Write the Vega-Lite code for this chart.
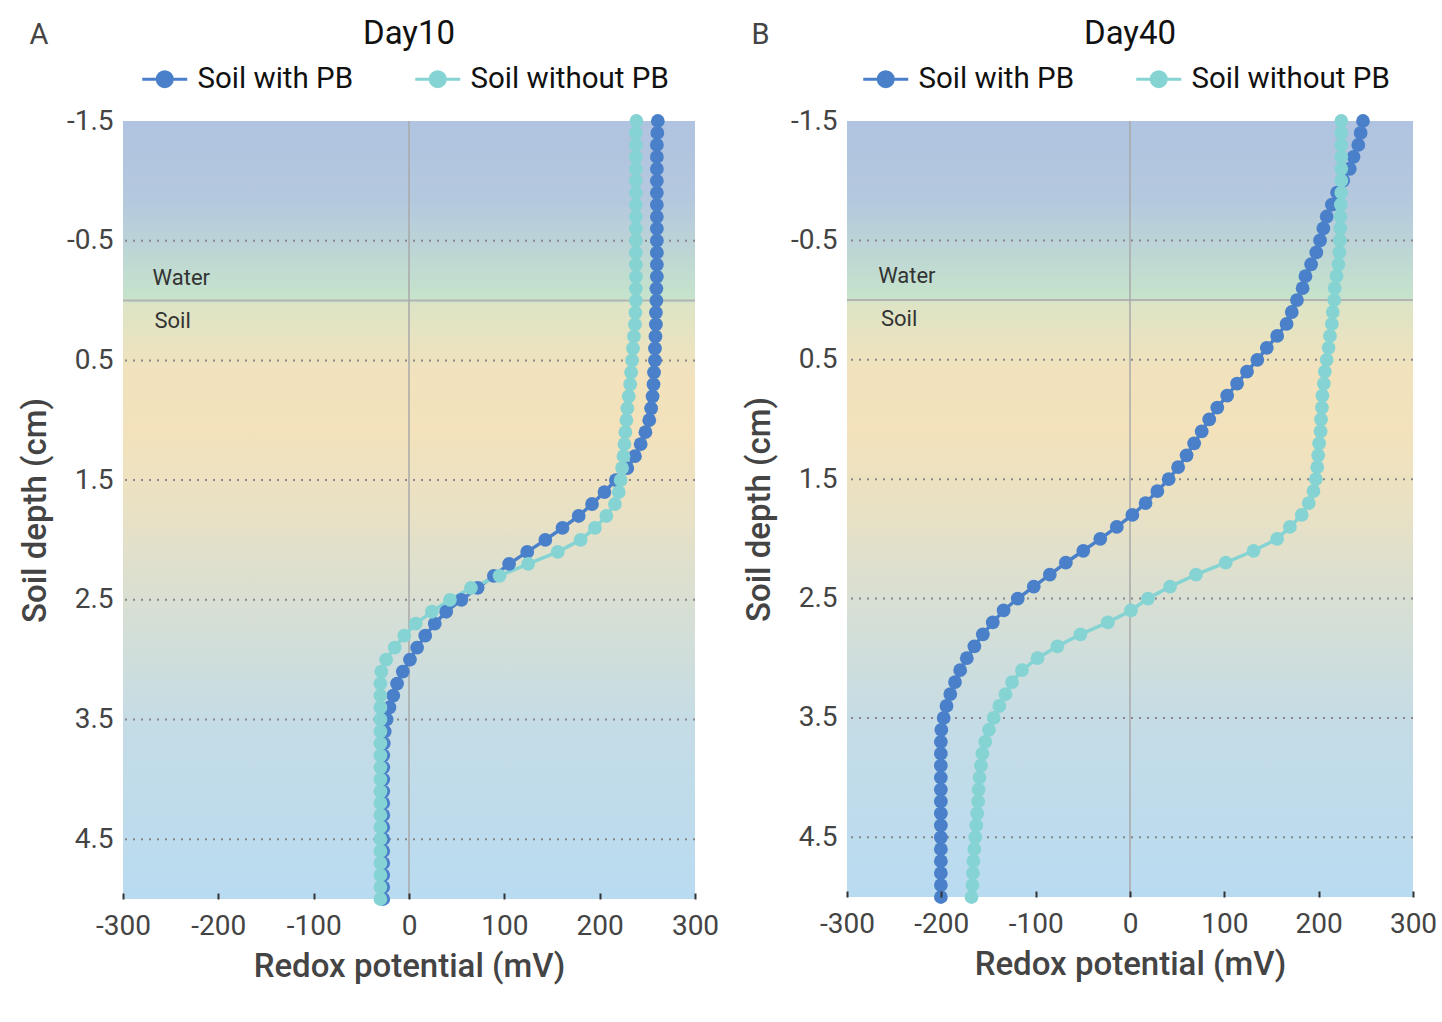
{
  "$schema": "https://vega.github.io/schema/vega-lite/v6.json",
  "background": "white",
  "padding": {"left": 19, "top": 18, "right": 4, "bottom": 6},
  "config": {
    "font": "Roboto",
    "view": {"stroke": null},
    "concat": {"spacing": 24},
    "axis": {"labelFontSize": 28, "labelColor": "#444", "titleFontSize": 33, "titleFontWeight": 500, "titleColor": "#444", "grid": false, "domain": false},
    "axisX": {"tickSize": -6, "tickColor": "#333", "tickWidth": 2, "labelPadding": 19, "titlePadding": 10, "labelFlush": false},
    "axisY": {"ticks": false, "labelPadding": 10, "titlePadding": 14},
    "legend": {
      "layout": {"top": {"anchor": "middle"}}
    },
    "title": {"fontSize": 33, "fontWeight": "normal", "color": "#111"}
  },
  "resolve": {"scale": {"color": "independent", "x": "independent", "y": "independent"}, "legend": {"color": "independent"}},
  "datasets": {
    "day10": [
      {"series": "Soil with PB", "depth": -1.5, "mv": 261}, {"series": "Soil with PB", "depth": -1.4, "mv": 260.5}, {"series": "Soil with PB", "depth": -1.3, "mv": 260}, {"series": "Soil with PB", "depth": -1.2, "mv": 260},
      {"series": "Soil with PB", "depth": -1.1, "mv": 260}, {"series": "Soil with PB", "depth": -1.0, "mv": 260}, {"series": "Soil with PB", "depth": -0.9, "mv": 260}, {"series": "Soil with PB", "depth": -0.8, "mv": 260},
      {"series": "Soil with PB", "depth": -0.7, "mv": 260}, {"series": "Soil with PB", "depth": -0.6, "mv": 260}, {"series": "Soil with PB", "depth": -0.5, "mv": 260}, {"series": "Soil with PB", "depth": -0.4, "mv": 260},
      {"series": "Soil with PB", "depth": -0.3, "mv": 260}, {"series": "Soil with PB", "depth": -0.2, "mv": 260}, {"series": "Soil with PB", "depth": -0.1, "mv": 259.5}, {"series": "Soil with PB", "depth": 0.0, "mv": 259.5},
      {"series": "Soil with PB", "depth": 0.1, "mv": 259}, {"series": "Soil with PB", "depth": 0.2, "mv": 259}, {"series": "Soil with PB", "depth": 0.3, "mv": 258.5}, {"series": "Soil with PB", "depth": 0.4, "mv": 258},
      {"series": "Soil with PB", "depth": 0.5, "mv": 258}, {"series": "Soil with PB", "depth": 0.6, "mv": 257}, {"series": "Soil with PB", "depth": 0.7, "mv": 256.5}, {"series": "Soil with PB", "depth": 0.8, "mv": 255.5},
      {"series": "Soil with PB", "depth": 0.9, "mv": 254}, {"series": "Soil with PB", "depth": 1.0, "mv": 252}, {"series": "Soil with PB", "depth": 1.1, "mv": 248}, {"series": "Soil with PB", "depth": 1.2, "mv": 243},
      {"series": "Soil with PB", "depth": 1.3, "mv": 237}, {"series": "Soil with PB", "depth": 1.4, "mv": 229}, {"series": "Soil with PB", "depth": 1.5, "mv": 217}, {"series": "Soil with PB", "depth": 1.6, "mv": 205},
      {"series": "Soil with PB", "depth": 1.7, "mv": 192}, {"series": "Soil with PB", "depth": 1.8, "mv": 178}, {"series": "Soil with PB", "depth": 1.9, "mv": 161}, {"series": "Soil with PB", "depth": 2.0, "mv": 143},
      {"series": "Soil with PB", "depth": 2.1, "mv": 124}, {"series": "Soil with PB", "depth": 2.2, "mv": 105}, {"series": "Soil with PB", "depth": 2.3, "mv": 89}, {"series": "Soil with PB", "depth": 2.4, "mv": 72},
      {"series": "Soil with PB", "depth": 2.5, "mv": 55}, {"series": "Soil with PB", "depth": 2.6, "mv": 39}, {"series": "Soil with PB", "depth": 2.7, "mv": 27}, {"series": "Soil with PB", "depth": 2.8, "mv": 17},
      {"series": "Soil with PB", "depth": 2.9, "mv": 8.5}, {"series": "Soil with PB", "depth": 3.0, "mv": 1}, {"series": "Soil with PB", "depth": 3.1, "mv": -6.5}, {"series": "Soil with PB", "depth": 3.2, "mv": -12.5},
      {"series": "Soil with PB", "depth": 3.3, "mv": -16.5}, {"series": "Soil with PB", "depth": 3.4, "mv": -20.5}, {"series": "Soil with PB", "depth": 3.5, "mv": -23.5}, {"series": "Soil with PB", "depth": 3.6, "mv": -25.5},
      {"series": "Soil with PB", "depth": 3.7, "mv": -26.5}, {"series": "Soil with PB", "depth": 3.8, "mv": -27}, {"series": "Soil with PB", "depth": 3.9, "mv": -27}, {"series": "Soil with PB", "depth": 4.0, "mv": -27},
      {"series": "Soil with PB", "depth": 4.1, "mv": -27}, {"series": "Soil with PB", "depth": 4.2, "mv": -27}, {"series": "Soil with PB", "depth": 4.3, "mv": -27}, {"series": "Soil with PB", "depth": 4.4, "mv": -27},
      {"series": "Soil with PB", "depth": 4.5, "mv": -27}, {"series": "Soil with PB", "depth": 4.6, "mv": -27}, {"series": "Soil with PB", "depth": 4.7, "mv": -27}, {"series": "Soil with PB", "depth": 4.8, "mv": -27},
      {"series": "Soil with PB", "depth": 4.9, "mv": -27}, {"series": "Soil with PB", "depth": 5.0, "mv": -27},
      {"series": "Soil without PB", "depth": -1.5, "mv": 238.5}, {"series": "Soil without PB", "depth": -1.4, "mv": 238}, {"series": "Soil without PB", "depth": -1.3, "mv": 238}, {"series": "Soil without PB", "depth": -1.2, "mv": 238},
      {"series": "Soil without PB", "depth": -1.1, "mv": 238}, {"series": "Soil without PB", "depth": -1.0, "mv": 238}, {"series": "Soil without PB", "depth": -0.9, "mv": 238}, {"series": "Soil without PB", "depth": -0.8, "mv": 238},
      {"series": "Soil without PB", "depth": -0.7, "mv": 238}, {"series": "Soil without PB", "depth": -0.6, "mv": 238}, {"series": "Soil without PB", "depth": -0.5, "mv": 238}, {"series": "Soil without PB", "depth": -0.4, "mv": 238},
      {"series": "Soil without PB", "depth": -0.3, "mv": 238}, {"series": "Soil without PB", "depth": -0.2, "mv": 238}, {"series": "Soil without PB", "depth": -0.1, "mv": 238}, {"series": "Soil without PB", "depth": 0.0, "mv": 238},
      {"series": "Soil without PB", "depth": 0.1, "mv": 237.5}, {"series": "Soil without PB", "depth": 0.2, "mv": 237}, {"series": "Soil without PB", "depth": 0.3, "mv": 236}, {"series": "Soil without PB", "depth": 0.4, "mv": 235},
      {"series": "Soil without PB", "depth": 0.5, "mv": 234}, {"series": "Soil without PB", "depth": 0.6, "mv": 233}, {"series": "Soil without PB", "depth": 0.7, "mv": 232}, {"series": "Soil without PB", "depth": 0.8, "mv": 230.5},
      {"series": "Soil without PB", "depth": 0.9, "mv": 229}, {"series": "Soil without PB", "depth": 1.0, "mv": 228}, {"series": "Soil without PB", "depth": 1.1, "mv": 227}, {"series": "Soil without PB", "depth": 1.2, "mv": 226},
      {"series": "Soil without PB", "depth": 1.3, "mv": 225}, {"series": "Soil without PB", "depth": 1.4, "mv": 223.5}, {"series": "Soil without PB", "depth": 1.5, "mv": 222}, {"series": "Soil without PB", "depth": 1.6, "mv": 220},
      {"series": "Soil without PB", "depth": 1.7, "mv": 216}, {"series": "Soil without PB", "depth": 1.8, "mv": 207}, {"series": "Soil without PB", "depth": 1.9, "mv": 195}, {"series": "Soil without PB", "depth": 2.0, "mv": 180},
      {"series": "Soil without PB", "depth": 2.1, "mv": 156}, {"series": "Soil without PB", "depth": 2.2, "mv": 125}, {"series": "Soil without PB", "depth": 2.3, "mv": 95}, {"series": "Soil without PB", "depth": 2.4, "mv": 65},
      {"series": "Soil without PB", "depth": 2.5, "mv": 43}, {"series": "Soil without PB", "depth": 2.6, "mv": 24}, {"series": "Soil without PB", "depth": 2.7, "mv": 7}, {"series": "Soil without PB", "depth": 2.8, "mv": -5},
      {"series": "Soil without PB", "depth": 2.9, "mv": -15}, {"series": "Soil without PB", "depth": 3.0, "mv": -24}, {"series": "Soil without PB", "depth": 3.1, "mv": -29}, {"series": "Soil without PB", "depth": 3.2, "mv": -30},
      {"series": "Soil without PB", "depth": 3.3, "mv": -30}, {"series": "Soil without PB", "depth": 3.4, "mv": -30}, {"series": "Soil without PB", "depth": 3.5, "mv": -30}, {"series": "Soil without PB", "depth": 3.6, "mv": -30},
      {"series": "Soil without PB", "depth": 3.7, "mv": -30}, {"series": "Soil without PB", "depth": 3.8, "mv": -30}, {"series": "Soil without PB", "depth": 3.9, "mv": -30}, {"series": "Soil without PB", "depth": 4.0, "mv": -30},
      {"series": "Soil without PB", "depth": 4.1, "mv": -30}, {"series": "Soil without PB", "depth": 4.2, "mv": -30}, {"series": "Soil without PB", "depth": 4.3, "mv": -30}, {"series": "Soil without PB", "depth": 4.4, "mv": -30},
      {"series": "Soil without PB", "depth": 4.5, "mv": -30}, {"series": "Soil without PB", "depth": 4.6, "mv": -30}, {"series": "Soil without PB", "depth": 4.7, "mv": -30}, {"series": "Soil without PB", "depth": 4.8, "mv": -30},
      {"series": "Soil without PB", "depth": 4.9, "mv": -30}, {"series": "Soil without PB", "depth": 5.0, "mv": -30}
    ],
    "day40": [
      {"series": "Soil with PB", "depth": -1.5, "mv": 247}, {"series": "Soil with PB", "depth": -1.4, "mv": 244.5}, {"series": "Soil with PB", "depth": -1.3, "mv": 242}, {"series": "Soil with PB", "depth": -1.2, "mv": 237},
      {"series": "Soil with PB", "depth": -1.1, "mv": 233}, {"series": "Soil with PB", "depth": -1.0, "mv": 226}, {"series": "Soil with PB", "depth": -0.9, "mv": 219.5}, {"series": "Soil with PB", "depth": -0.8, "mv": 214},
      {"series": "Soil with PB", "depth": -0.7, "mv": 208.5}, {"series": "Soil with PB", "depth": -0.6, "mv": 205}, {"series": "Soil with PB", "depth": -0.5, "mv": 201.5}, {"series": "Soil with PB", "depth": -0.4, "mv": 197.5},
      {"series": "Soil with PB", "depth": -0.3, "mv": 192}, {"series": "Soil with PB", "depth": -0.2, "mv": 186}, {"series": "Soil with PB", "depth": -0.1, "mv": 183}, {"series": "Soil with PB", "depth": 0.0, "mv": 177},
      {"series": "Soil with PB", "depth": 0.1, "mv": 171.5}, {"series": "Soil with PB", "depth": 0.2, "mv": 166}, {"series": "Soil with PB", "depth": 0.3, "mv": 156}, {"series": "Soil with PB", "depth": 0.4, "mv": 145},
      {"series": "Soil with PB", "depth": 0.5, "mv": 135}, {"series": "Soil with PB", "depth": 0.6, "mv": 124}, {"series": "Soil with PB", "depth": 0.7, "mv": 113.5}, {"series": "Soil with PB", "depth": 0.8, "mv": 103},
      {"series": "Soil with PB", "depth": 0.9, "mv": 92.5}, {"series": "Soil with PB", "depth": 1.0, "mv": 84}, {"series": "Soil with PB", "depth": 1.1, "mv": 76}, {"series": "Soil with PB", "depth": 1.2, "mv": 68},
      {"series": "Soil with PB", "depth": 1.3, "mv": 60}, {"series": "Soil with PB", "depth": 1.4, "mv": 51}, {"series": "Soil with PB", "depth": 1.5, "mv": 41}, {"series": "Soil with PB", "depth": 1.6, "mv": 29},
      {"series": "Soil with PB", "depth": 1.7, "mv": 16.5}, {"series": "Soil with PB", "depth": 1.8, "mv": 2.5}, {"series": "Soil with PB", "depth": 1.9, "mv": -14}, {"series": "Soil with PB", "depth": 2.0, "mv": -31.5},
      {"series": "Soil with PB", "depth": 2.1, "mv": -49.5}, {"series": "Soil with PB", "depth": 2.2, "mv": -68}, {"series": "Soil with PB", "depth": 2.3, "mv": -85}, {"series": "Soil with PB", "depth": 2.4, "mv": -102},
      {"series": "Soil with PB", "depth": 2.5, "mv": -119}, {"series": "Soil with PB", "depth": 2.6, "mv": -134}, {"series": "Soil with PB", "depth": 2.7, "mv": -145.5}, {"series": "Soil with PB", "depth": 2.8, "mv": -156},
      {"series": "Soil with PB", "depth": 2.9, "mv": -165}, {"series": "Soil with PB", "depth": 3.0, "mv": -173}, {"series": "Soil with PB", "depth": 3.1, "mv": -180}, {"series": "Soil with PB", "depth": 3.2, "mv": -185.5},
      {"series": "Soil with PB", "depth": 3.3, "mv": -190.5}, {"series": "Soil with PB", "depth": 3.4, "mv": -194.5}, {"series": "Soil with PB", "depth": 3.5, "mv": -197.5}, {"series": "Soil with PB", "depth": 3.6, "mv": -200},
      {"series": "Soil with PB", "depth": 3.7, "mv": -200.5}, {"series": "Soil with PB", "depth": 3.8, "mv": -200.5}, {"series": "Soil with PB", "depth": 3.9, "mv": -200.5}, {"series": "Soil with PB", "depth": 4.0, "mv": -200.5},
      {"series": "Soil with PB", "depth": 4.1, "mv": -200.5}, {"series": "Soil with PB", "depth": 4.2, "mv": -200.5}, {"series": "Soil with PB", "depth": 4.3, "mv": -200.5}, {"series": "Soil with PB", "depth": 4.4, "mv": -200.5},
      {"series": "Soil with PB", "depth": 4.5, "mv": -200.5}, {"series": "Soil with PB", "depth": 4.6, "mv": -200.5}, {"series": "Soil with PB", "depth": 4.7, "mv": -200.5}, {"series": "Soil with PB", "depth": 4.8, "mv": -200.5},
      {"series": "Soil with PB", "depth": 4.9, "mv": -200.5}, {"series": "Soil with PB", "depth": 5.0, "mv": -200.5},
      {"series": "Soil without PB", "depth": -1.5, "mv": 224}, {"series": "Soil without PB", "depth": -1.4, "mv": 224}, {"series": "Soil without PB", "depth": -1.3, "mv": 224}, {"series": "Soil without PB", "depth": -1.2, "mv": 224},
      {"series": "Soil without PB", "depth": -1.1, "mv": 224}, {"series": "Soil without PB", "depth": -1.0, "mv": 224}, {"series": "Soil without PB", "depth": -0.9, "mv": 224}, {"series": "Soil without PB", "depth": -0.8, "mv": 223.5},
      {"series": "Soil without PB", "depth": -0.7, "mv": 223}, {"series": "Soil without PB", "depth": -0.6, "mv": 223}, {"series": "Soil without PB", "depth": -0.5, "mv": 222.5}, {"series": "Soil without PB", "depth": -0.4, "mv": 222},
      {"series": "Soil without PB", "depth": -0.3, "mv": 221}, {"series": "Soil without PB", "depth": -0.2, "mv": 219}, {"series": "Soil without PB", "depth": -0.1, "mv": 217}, {"series": "Soil without PB", "depth": 0.0, "mv": 216.5},
      {"series": "Soil without PB", "depth": 0.1, "mv": 215}, {"series": "Soil without PB", "depth": 0.2, "mv": 214}, {"series": "Soil without PB", "depth": 0.3, "mv": 212}, {"series": "Soil without PB", "depth": 0.4, "mv": 210.5},
      {"series": "Soil without PB", "depth": 0.5, "mv": 208.5}, {"series": "Soil without PB", "depth": 0.6, "mv": 206.5}, {"series": "Soil without PB", "depth": 0.7, "mv": 205.5}, {"series": "Soil without PB", "depth": 0.8, "mv": 204},
      {"series": "Soil without PB", "depth": 0.9, "mv": 203.5}, {"series": "Soil without PB", "depth": 1.0, "mv": 202.5}, {"series": "Soil without PB", "depth": 1.1, "mv": 202}, {"series": "Soil without PB", "depth": 1.2, "mv": 200.5},
      {"series": "Soil without PB", "depth": 1.3, "mv": 199.5}, {"series": "Soil without PB", "depth": 1.4, "mv": 198.5}, {"series": "Soil without PB", "depth": 1.5, "mv": 197}, {"series": "Soil without PB", "depth": 1.6, "mv": 194.5},
      {"series": "Soil without PB", "depth": 1.7, "mv": 189.5}, {"series": "Soil without PB", "depth": 1.8, "mv": 182}, {"series": "Soil without PB", "depth": 1.9, "mv": 169.5}, {"series": "Soil without PB", "depth": 2.0, "mv": 156},
      {"series": "Soil without PB", "depth": 2.1, "mv": 131}, {"series": "Soil without PB", "depth": 2.2, "mv": 101.5}, {"series": "Soil without PB", "depth": 2.3, "mv": 70}, {"series": "Soil without PB", "depth": 2.4, "mv": 42.5},
      {"series": "Soil without PB", "depth": 2.5, "mv": 19}, {"series": "Soil without PB", "depth": 2.6, "mv": 1}, {"series": "Soil without PB", "depth": 2.7, "mv": -23.5}, {"series": "Soil without PB", "depth": 2.8, "mv": -52.5},
      {"series": "Soil without PB", "depth": 2.9, "mv": -77}, {"series": "Soil without PB", "depth": 3.0, "mv": -98}, {"series": "Soil without PB", "depth": 3.1, "mv": -114.5}, {"series": "Soil without PB", "depth": 3.2, "mv": -125},
      {"series": "Soil without PB", "depth": 3.3, "mv": -132}, {"series": "Soil without PB", "depth": 3.4, "mv": -138.5}, {"series": "Soil without PB", "depth": 3.5, "mv": -144.5}, {"series": "Soil without PB", "depth": 3.6, "mv": -149.5},
      {"series": "Soil without PB", "depth": 3.7, "mv": -153.5}, {"series": "Soil without PB", "depth": 3.8, "mv": -156.5}, {"series": "Soil without PB", "depth": 3.9, "mv": -158}, {"series": "Soil without PB", "depth": 4.0, "mv": -159.5},
      {"series": "Soil without PB", "depth": 4.1, "mv": -160.5}, {"series": "Soil without PB", "depth": 4.2, "mv": -161}, {"series": "Soil without PB", "depth": 4.3, "mv": -162}, {"series": "Soil without PB", "depth": 4.4, "mv": -163},
      {"series": "Soil without PB", "depth": 4.5, "mv": -164}, {"series": "Soil without PB", "depth": 4.6, "mv": -165}, {"series": "Soil without PB", "depth": 4.7, "mv": -166}, {"series": "Soil without PB", "depth": 4.8, "mv": -166.5},
      {"series": "Soil without PB", "depth": 4.9, "mv": -167}, {"series": "Soil without PB", "depth": 5.0, "mv": -168}
    ]
  },
  "hconcat": [
    {
      "title": {"text": "A", "anchor": "start", "fontSize": 29, "fontWeight": "normal", "color": "#444", "offset": -32, "dx": 10},
      "resolve": {"scale": {"color": "independent"}, "legend": {"color": "independent"}},
      "vconcat": [
        {
          "title": {"text": "Day10", "offset": 13},
          "width": 572,
          "height": 778,
          "data": {"name": "day10"},
          "layer": [
            {
              "data": {"values": [{}]},
              "mark": {"type": "rect", "fill": {"gradient": "linear", "x1": 0, "y1": 0, "x2": 0, "y2": 1, "stops": [
                {"offset": 0, "color": "#b0c3e0"}, {"offset": 0.1, "color": "#b4c8de"}, {"offset": 0.16, "color": "#bcd4d6"},
                {"offset": 0.226, "color": "#c5e3cc"}, {"offset": 0.236, "color": "#dde4c5"}, {"offset": 0.32, "color": "#f1e2bd"},
                {"offset": 0.4, "color": "#f3e2bb"}, {"offset": 0.5, "color": "#e9e1c4"}, {"offset": 0.62, "color": "#d8dfd3"},
                {"offset": 0.78, "color": "#c4dce6"}, {"offset": 1, "color": "#b9dbf1"}]}},
              "encoding": {
                "x": {"datum": -300, "type": "quantitative", "scale": {"domain": [-300, 300], "nice": false, "zero": false},
                      "axis": {"title": "Redox potential (mV)", "zindex": 1, "values": [-300, -200, -100, 0, 100, 200, 300], "labelExpr": "datum.value < 0 ? '-' + format(-datum.value, 'd') : format(datum.value, 'd')"}},
                "x2": {"datum": 300},
                "y": {"datum": -1.5, "type": "quantitative", "scale": {"domain": [-1.5, 5], "reverse": true, "nice": false, "zero": false},
                      "axis": {"title": "Soil depth (cm)", "values": [-1.5, -0.5, 0.5, 1.5, 2.5, 3.5, 4.5], "labelExpr": "datum.value < 0 ? '-' + format(-datum.value, '.1f') : format(datum.value, '.1f')"}},
                "y2": {"datum": 5}
              }
            },
            {
              "data": {"values": [{"d": -0.5}, {"d": 0.5}, {"d": 1.5}, {"d": 2.5}, {"d": 3.5}, {"d": 4.5}]},
              "mark": {"type": "rule", "color": "#888", "strokeWidth": 2, "strokeDash": [2, 6]},
              "encoding": {"y": {"field": "d", "type": "quantitative"}}
            },
            {
              "data": {"values": [{}]},
              "mark": {"type": "rule", "color": "#b3b3b3", "strokeWidth": 2},
              "encoding": {"y": {"datum": 0, "type": "quantitative"}}
            },
            {
              "data": {"values": [{}]},
              "mark": {"type": "rule", "color": "#a8a8a8", "strokeWidth": 1.5},
              "encoding": {"x": {"datum": 0, "type": "quantitative"}}
            },
            {
              "data": {"values": [{}]},
              "mark": {"type": "text", "text": "Water", "align": "left", "baseline": "middle", "fontSize": 22, "color": "#333"},
              "encoding": {"x": {"datum": -269, "type": "quantitative"}, "y": {"datum": -0.19, "type": "quantitative"}}
            },
            {
              "data": {"values": [{}]},
              "mark": {"type": "text", "text": "Soil", "align": "left", "baseline": "middle", "fontSize": 22, "color": "#333"},
              "encoding": {"x": {"datum": -267, "type": "quantitative"}, "y": {"datum": 0.175, "type": "quantitative"}}
            },
            {
              "mark": {"type": "line", "strokeWidth": 3.5},
              "encoding": {
                "x": {"field": "mv", "type": "quantitative"},
                "y": {"field": "depth", "type": "quantitative"},
                "order": {"field": "depth"},
                "color": {"field": "series", "type": "nominal",
                  "scale": {"domain": ["Soil with PB", "Soil without PB"], "range": ["#4a80c9", "#85d4d3"]},
                  "legend": {"title": null, "orient": "top", "direction": "horizontal", "labelFontSize": 29.5, "labelColor": "#111", "labelLimit": 400,
                    "symbolType": "M-3,0L3,0M-1,0A1,1 0 1,1 1,0A1,1 0 1,1 -1,0Z", "symbolSize": 225, "symbolStrokeWidth": 3,
                    "labelOffset": 18, "columnPadding": 55, "offset": 20}}
              }
            },
            {
              "mark": {"type": "circle", "size": 190, "opacity": 1},
              "encoding": {
                "x": {"field": "mv", "type": "quantitative"},
                "y": {"field": "depth", "type": "quantitative"},
                "color": {"field": "series", "type": "nominal"}
              }
            }
          ]
        }
      ]
    },
    {
      "title": {"text": "B", "anchor": "start", "fontSize": 29, "fontWeight": "normal", "color": "#444", "offset": -32, "dx": 8},
      "resolve": {"scale": {"color": "independent"}, "legend": {"color": "independent"}},
      "vconcat": [
        {
          "title": {"text": "Day40", "offset": 13},
          "width": 566,
          "height": 776,
          "data": {"name": "day40"},
          "layer": [
            {
              "data": {"values": [{}]},
              "mark": {"type": "rect", "fill": {"gradient": "linear", "x1": 0, "y1": 0, "x2": 0, "y2": 1, "stops": [
                {"offset": 0, "color": "#b0c3e0"}, {"offset": 0.1, "color": "#b4c8de"}, {"offset": 0.16, "color": "#bcd4d6"},
                {"offset": 0.226, "color": "#c5e3cc"}, {"offset": 0.236, "color": "#dde4c5"}, {"offset": 0.32, "color": "#f1e2bd"},
                {"offset": 0.4, "color": "#f3e2bb"}, {"offset": 0.5, "color": "#e9e1c4"}, {"offset": 0.62, "color": "#d8dfd3"},
                {"offset": 0.78, "color": "#c4dce6"}, {"offset": 1, "color": "#b9dbf1"}]}},
              "encoding": {
                "x": {"datum": -300, "type": "quantitative", "scale": {"domain": [-300, 300], "nice": false, "zero": false},
                      "axis": {"title": "Redox potential (mV)", "zindex": 1, "values": [-300, -200, -100, 0, 100, 200, 300], "labelExpr": "datum.value < 0 ? '-' + format(-datum.value, 'd') : format(datum.value, 'd')"}},
                "x2": {"datum": 300},
                "y": {"datum": -1.5, "type": "quantitative", "scale": {"domain": [-1.5, 5], "reverse": true, "nice": false, "zero": false},
                      "axis": {"title": "Soil depth (cm)", "values": [-1.5, -0.5, 0.5, 1.5, 2.5, 3.5, 4.5], "labelExpr": "datum.value < 0 ? '-' + format(-datum.value, '.1f') : format(datum.value, '.1f')"}},
                "y2": {"datum": 5}
              }
            },
            {
              "data": {"values": [{"d": -0.5}, {"d": 0.5}, {"d": 1.5}, {"d": 2.5}, {"d": 3.5}, {"d": 4.5}]},
              "mark": {"type": "rule", "color": "#888", "strokeWidth": 2, "strokeDash": [2, 6]},
              "encoding": {"y": {"field": "d", "type": "quantitative"}}
            },
            {
              "data": {"values": [{}]},
              "mark": {"type": "rule", "color": "#b3b3b3", "strokeWidth": 2},
              "encoding": {"y": {"datum": 0, "type": "quantitative"}}
            },
            {
              "data": {"values": [{}]},
              "mark": {"type": "rule", "color": "#a8a8a8", "strokeWidth": 1.5},
              "encoding": {"x": {"datum": 0, "type": "quantitative"}}
            },
            {
              "data": {"values": [{}]},
              "mark": {"type": "text", "text": "Water", "align": "left", "baseline": "middle", "fontSize": 22, "color": "#333"},
              "encoding": {"x": {"datum": -267, "type": "quantitative"}, "y": {"datum": -0.2, "type": "quantitative"}}
            },
            {
              "data": {"values": [{}]},
              "mark": {"type": "text", "text": "Soil", "align": "left", "baseline": "middle", "fontSize": 22, "color": "#333"},
              "encoding": {"x": {"datum": -264, "type": "quantitative"}, "y": {"datum": 0.16, "type": "quantitative"}}
            },
            {
              "mark": {"type": "line", "strokeWidth": 3.5},
              "encoding": {
                "x": {"field": "mv", "type": "quantitative"},
                "y": {"field": "depth", "type": "quantitative"},
                "order": {"field": "depth"},
                "color": {"field": "series", "type": "nominal",
                  "scale": {"domain": ["Soil with PB", "Soil without PB"], "range": ["#4a80c9", "#85d4d3"]},
                  "legend": {"title": null, "orient": "top", "direction": "horizontal", "labelFontSize": 29.5, "labelColor": "#111", "labelLimit": 400,
                    "symbolType": "M-3,0L3,0M-1,0A1,1 0 1,1 1,0A1,1 0 1,1 -1,0Z", "symbolSize": 225, "symbolStrokeWidth": 3,
                    "labelOffset": 18, "columnPadding": 55, "offset": 20}}
              }
            },
            {
              "mark": {"type": "circle", "size": 190, "opacity": 1},
              "encoding": {
                "x": {"field": "mv", "type": "quantitative"},
                "y": {"field": "depth", "type": "quantitative"},
                "color": {"field": "series", "type": "nominal"}
              }
            }
          ]
        }
      ]
    }
  ]
}
